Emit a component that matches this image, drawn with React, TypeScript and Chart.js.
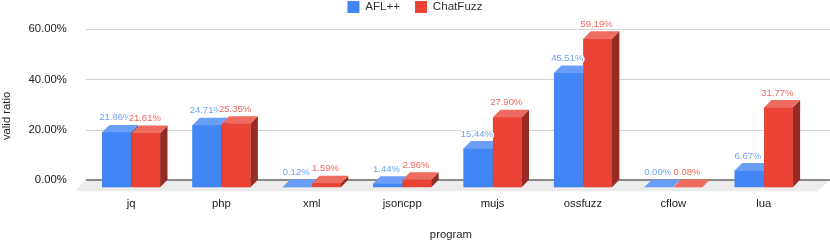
import React, { useEffect, useRef } from "react";
import { Chart, registerables } from "chart.js";

Chart.register(...registerables);

const programs = ["jq", "php", "xml", "jsoncpp", "mujs", "ossfuzz", "cflow", "lua"];
const aflValues = [21.86, 24.71, 0.12, 1.44, 15.44, 45.51, 0.0, 6.67];
const chatFuzzValues = [21.61, 25.35, 1.59, 2.96, 27.9, 59.19, 0.08, 31.77];
const seriesNames = ["AFL++", "ChatFuzz"];
const yTicks = [0, 20, 40, 60];

const FONT = "'Liberation Sans', Arial, sans-serif";
const DEPTH = 7.4;
const palette = [
  { front: "#4285f4", top: "#6a9ef6", side: "#2f5ead", label: "#6fa2f7" },
  { front: "#ea4335", top: "#ee6b5f", side: "#952b22", label: "#ef6a5f" },
];

const depthPlugin = {
  id: "depth",
  beforeInit(chart: any) {
    const legend = chart.legend;
    const drawLegend = legend.draw;
    legend.draw = function (...args: any[]) {
      const c = this.ctx;
      c.save();
      c.translate(10.5, -13.5);
      drawLegend.apply(this, args);
      c.restore();
    };
  },
  beforeDatasetsDraw(chart: any) {
    const { ctx, chartArea, scales } = chart;
    const back = (v: number) => scales.y.getPixelForValue(v) - DEPTH;
    const left = chartArea.left;
    const y0 = back(0);
    ctx.save();
    ctx.fillStyle = "#ececec";
    ctx.beginPath();
    ctx.moveTo(left - 11.5, y0 + 11.5);
    ctx.lineTo(left, y0);
    ctx.lineTo(830, y0);
    ctx.lineTo(818, y0 + 11.5);
    ctx.closePath();
    ctx.fill();
    for (const t of yTicks) {
      const y = Math.round(back(t)) + 0.5 - (t === 0 ? 0.5 : 0);
      ctx.strokeStyle = t === 0 ? "#8a8a8a" : "#d4d4d4";
      ctx.lineWidth = t === 0 ? 2 : 1;
      ctx.beginPath();
      ctx.moveTo(left, y);
      ctx.lineTo(830, y);
      ctx.stroke();
    }
    ctx.restore();
  },
  afterDatasetsDraw(chart: any) {
    const { ctx } = chart;
    chart.data.datasets.forEach((_: any, di: number) => {
      const c = palette[di];
      chart.getDatasetMeta(di).data.forEach((el: any) => {
        const p = el.getProps(["x", "y", "base", "width"], true);
        const l = p.x - p.width / 2;
        const r = p.x + p.width / 2;
        ctx.fillStyle = c.side;
        ctx.beginPath();
        ctx.moveTo(r, p.y);
        ctx.lineTo(r + DEPTH, p.y - DEPTH);
        ctx.lineTo(r + DEPTH, p.base - DEPTH);
        ctx.lineTo(r, p.base);
        ctx.closePath();
        ctx.fill();
        ctx.fillStyle = c.top;
        ctx.beginPath();
        ctx.moveTo(l, p.y);
        ctx.lineTo(l + DEPTH, p.y - DEPTH);
        ctx.lineTo(r + DEPTH, p.y - DEPTH);
        ctx.lineTo(r, p.y);
        ctx.closePath();
        ctx.fill();
        el.draw(ctx, chart.chartArea);
      });
    });
    ctx.save();
    ctx.font = `9.5px ${FONT}`;
    ctx.textAlign = "center";
    ctx.textBaseline = "middle";
    ctx.lineJoin = "round";
    chart.data.datasets.forEach((ds: any, di: number) => {
      chart.getDatasetMeta(di).data.forEach((el: any, i: number) => {
        const p = el.getProps(["x", "y"], true);
        const text = `${ds.data[i].toFixed(2)}%`;
        const x = p.x - 1;
        const y = p.y - 14.5;
        ctx.strokeStyle = "#ffffff";
        ctx.lineWidth = 3;
        ctx.strokeText(text, x, y);
        ctx.fillStyle = palette[di].label;
        ctx.fillText(text, x, y);
      });
    });
    ctx.restore();
  },
};

function shiftTitle(scale: any, dx: number, dy: number) {
  if (scale.__shifted) return;
  scale.__shifted = true;
  const orig = scale.drawTitle;
  scale.drawTitle = function (...args: any[]) {
    const c = this.ctx;
    c.save();
    c.translate(dx, dy);
    orig.apply(this, args);
    c.restore();
  };
}

export default function App() {
  const ref = useRef<HTMLCanvasElement>(null);
  useEffect(() => {
    document.body.style.margin = "0";
    const font = { family: FONT, size: 11.3 };
    const chart = new Chart(ref.current as HTMLCanvasElement, {
      type: "bar",
      data: {
        labels: programs,
        datasets: [
          { label: seriesNames[0], data: aflValues, backgroundColor: palette[0].front, categoryPercentage: 0.65, barPercentage: 0.975 },
          { label: seriesNames[1], data: chatFuzzValues, backgroundColor: palette[1].front, categoryPercentage: 0.65, barPercentage: 0.975 },
        ],
      },
      options: {
        responsive: false,
        animation: false,
        layout: { padding: { top: -17, right: 21.1, left: 0, bottom: 0 } },
        plugins: {
          tooltip: { enabled: false },
          legend: {
            position: "top",
            labels: { boxWidth: 12, boxHeight: 12, padding: 15, color: "#333333", font: { family: FONT, size: 11.6 } },
          },
        },
        scales: {
          x: {
            grid: { display: false, drawTicks: false, tickLength: 0 },
            border: { display: false },
            ticks: { color: "#222222", font, padding: 10, maxRotation: 0 },
            title: { display: true, text: "program", color: "#222222", font, padding: { top: 0, bottom: 0 } },
            afterFit: (s: any) => { s.height = 53.8; },
            afterUpdate: (s: any) => shiftTitle(s, 3.5, 1),
          },
          y: {
            min: 0,
            max: 60,
            afterBuildTicks: (s: any) => { s.ticks = yTicks.map((value) => ({ value })); },
            grid: { display: false, drawTicks: false, tickLength: 0 },
            border: { display: false },
            ticks: {
              color: "#222222",
              font,
              padding: 19,
              labelOffset: -DEPTH,
              callback: (v: any) => `${Number(v).toFixed(2)}%`,
            },
            title: { display: true, text: "valid ratio", color: "#222222", font, padding: 0 },
            afterFit: (s: any) => { s.width = 85.9; s.paddingTop = 36.6; },
            afterUpdate: (s: any) => shiftTitle(s, 0, 4),
          },
        },
      },
      plugins: [depthPlugin],
    } as any);
    return () => chart.destroy();
  }, []);
  return <canvas ref={ref} width={830} height={241} style={{ display: "block" }} />;
}
